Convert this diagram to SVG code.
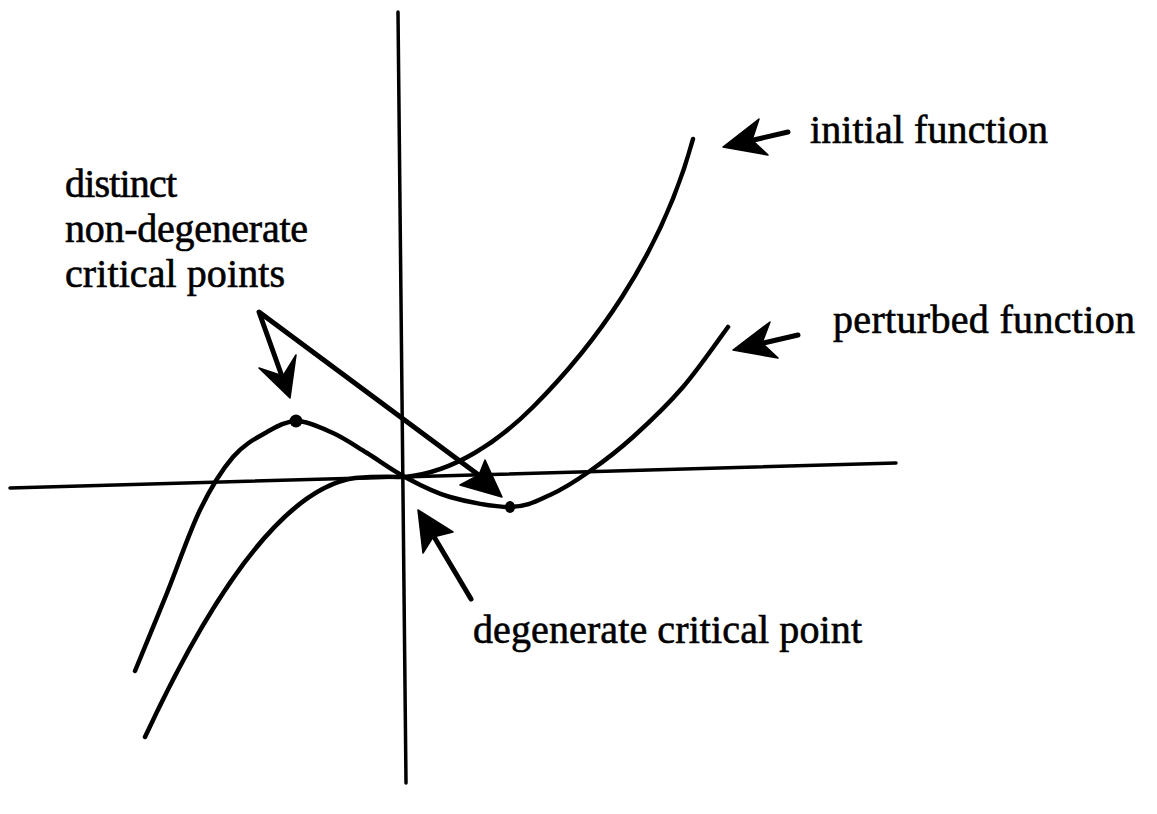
<svg xmlns="http://www.w3.org/2000/svg" width="1157" height="814" viewBox="0 0 1157 814">
<style>
.ax{stroke:#000;stroke-width:3.5;fill:none;stroke-linecap:round}
.cv{stroke:#000;stroke-width:4.5;fill:none;stroke-linecap:round;stroke-linejoin:round}
.sh{stroke:#000;stroke-width:5;fill:none;stroke-linecap:round;stroke-linejoin:round}
.hd{fill:#000;stroke:#000;stroke-width:1.5;stroke-linejoin:round}
.lb{font-family:"Liberation Serif","Times New Roman",serif;font-size:40px;fill:#000;stroke:#000;stroke-width:0.6}
</style>
<rect width="1157" height="814" fill="#fff"/>
<g id="axes">
<line class="ax" x1="398" y1="12" x2="406" y2="783"/>
<line class="ax" x1="10" y1="488" x2="896" y2="463"/>
</g>
<g id="initial-function">
<path class="cv" d="M145,737 C190,640 270,490 355,478 C380,476 395,477 405,477 C455,472 500,440 533,407 C590,350 660,260 693,139"/>
</g>
<g id="perturbed-function">
<path class="cv" d="M135,671 C140.3,658 156.2,619.8 167,593 C177.8,566.2 189,532.7 200,510 C211,487.3 221.8,470 233,457 C244.2,444 256.3,438 267,432 C277.7,426 286,421.2 297,421 C308,421.2 321.3,427.7 333,433 C344.7,438.3 355,445.7 367,453 C379,460.3 391.2,469.7 405,477 C418.8,484.3 432.5,492 450,497 C467.5,502 493.3,507 510,507 C526.7,507 536.7,501 550,495 C563.3,489 576.2,480.7 590,471 C603.8,461.3 617.5,451 633,437 C648.5,423 667.2,405.3 683,387 C698.8,368.7 720.5,337 728,327"/>
</g>
<g id="critical-points">
<circle cx="296" cy="421" r="6.5" fill="#000"/>
<ellipse cx="510" cy="507" rx="5" ry="6" fill="#000"/>
</g>
<g id="connectors">
<polyline class="sh" points="284,382 259,312 480,476"/>
<polygon class="hd" points="290,398 259,368 283,376 296,355"/>
<polygon class="hd" points="502,497 460,485 479,475 485,460"/>
<line class="sh" x1="788" y1="132" x2="745" y2="142"/>
<polygon class="hd" points="723,147 759,119 752,140 768,155"/>
<line class="sh" x1="798" y1="335" x2="755" y2="345"/>
<polygon class="hd" points="733,350 770,322 762,343 778,358"/>
<line class="sh" x1="471" y1="599" x2="430" y2="530"/>
<polygon class="hd" points="418,510 453,532 433,537 423,553"/>
</g>
<g id="label-initial">
<text class="lb" x="810" y="143" textLength="238">initial function</text>
</g>
<g id="label-perturbed">
<text class="lb" x="833" y="333" textLength="302">perturbed function</text>
</g>
<g id="label-distinct">
<text class="lb" x="65" y="197" textLength="112">distinct</text>
<text class="lb" x="65" y="242" textLength="243">non-degenerate</text>
<text class="lb" x="65" y="287" textLength="220">critical points</text>
</g>
<g id="label-degenerate">
<text class="lb" x="473" y="643" textLength="389">degenerate critical point</text>
</g>
</svg>
